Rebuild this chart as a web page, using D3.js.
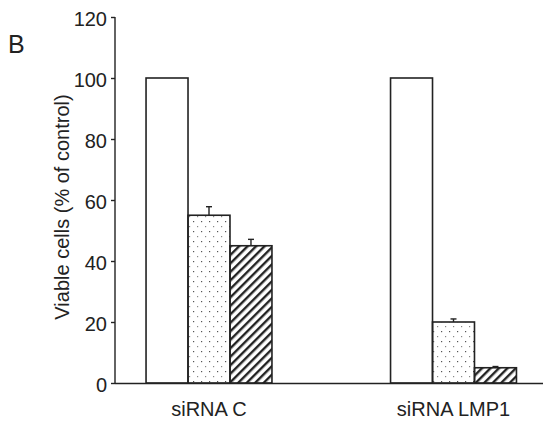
<!DOCTYPE html>
<html><head><meta charset="utf-8">
<script src="https://cdn.jsdelivr.net/npm/d3@7"></script>
<style>body{margin:0;background:#fff}</style>
</head><body>
<script>
const groups = ["siRNA C", "siRNA LMP1"];
const series = ["control", "treatA", "treatB"];
const values = [[100, 55, 45], [100, 20, 5]];
const errors = [[0, 2.8, 2.1], [0, 1.0, 0.4]];
const yTicks = [0, 20, 40, 60, 80, 100, 120];

const W = 550, H = 430;
const FONT = "'Liberation Sans', Arial, sans-serif";
const svg = d3.select("body").append("svg").attr("width", W).attr("height", H)
  .style("font-family", FONT);

const defs = svg.append("defs");
const dots = defs.append("pattern").attr("id", "dots").attr("patternUnits", "userSpaceOnUse")
  .attr("width", 8).attr("height", 10);
dots.append("rect").attr("x", 1).attr("y", 1).attr("width", 1.2).attr("height", 1.2).attr("fill", "#555");
dots.append("rect").attr("x", 5).attr("y", 6).attr("width", 1.2).attr("height", 1.2).attr("fill", "#888");
const hatch = defs.append("pattern").attr("id", "hatch").attr("patternUnits", "userSpaceOnUse")
  .attr("width", 6).attr("height", 6).attr("patternTransform", "rotate(45)");
hatch.append("rect").attr("x", 0).attr("y", 0).attr("width", 2.4).attr("height", 6).attr("fill", "#222");

const fills = ["#fff", "url(#dots)", "url(#hatch)"];

const y = d3.scaleLinear().domain([0, 120]).range([383, 17]);
const x0 = d3.scaleBand().domain(groups).range([86.75, 575.75]).paddingInner(0.485).paddingOuter(0.2425);
const x1 = d3.scaleBand().domain(series).range([0, x0.bandwidth()]);

const stroke = "#222";

// bars
const g = svg.append("g");
groups.forEach((grp, gi) => {
  series.forEach((s, si) => {
    const v = values[gi][si];
    const bx = x0(grp) + x1(s);
    g.append("rect").attr("x", bx).attr("y", y(v))
      .attr("width", x1.bandwidth()).attr("height", y(0) - y(v))
      .attr("fill", fills[si]).attr("stroke", stroke).attr("stroke-width", 1.6);
    const e = errors[gi][si];
    if (e > 0) {
      const cx = bx + x1.bandwidth() / 2;
      g.append("line").attr("x1", cx).attr("x2", cx).attr("y1", y(v)).attr("y2", y(v + e))
        .attr("stroke", stroke).attr("stroke-width", 1.4);
      g.append("line").attr("x1", cx - 3).attr("x2", cx + 3).attr("y1", y(v + e)).attr("y2", y(v + e))
        .attr("stroke", stroke).attr("stroke-width", 1.4);
    }
  });
});

// y axis
const yAxis = d3.axisLeft(y).tickValues(yTicks).tickSize(4).tickPadding(4);
const ya = svg.append("g").attr("transform", "translate(115,0)").call(yAxis);
ya.select(".domain").attr("stroke", stroke).attr("stroke-width", 1.4).attr("d", "M0,17V383");
ya.selectAll(".tick line").attr("stroke", stroke).attr("stroke-width", 1.4);
ya.selectAll(".tick text").attr("font-size", 20).attr("fill", "#222").attr("dy", "0.42em")
  .attr("font-family", FONT);

// x axis line
svg.append("line").attr("x1", 115).attr("x2", 543).attr("y1", 383.5).attr("y2", 383.5)
  .attr("stroke", stroke).attr("stroke-width", 1.4);
// group labels
groups.forEach(grp => {
  svg.append("text").attr("x", x0(grp) + x0.bandwidth() / 2).attr("y", 416)
    .attr("text-anchor", "middle").attr("font-size", 20).attr("fill", "#222").text(grp);
});

// y title
svg.append("text").attr("transform", "translate(69,207) rotate(-90)")
  .attr("text-anchor", "middle").attr("font-size", 20).attr("fill", "#222")
  .text("Viable cells (% of control)");

// panel letter
svg.append("text").attr("x", 8).attr("y", 53).attr("font-size", 25).attr("fill", "#222").text("B");
</script>
</body></html>
